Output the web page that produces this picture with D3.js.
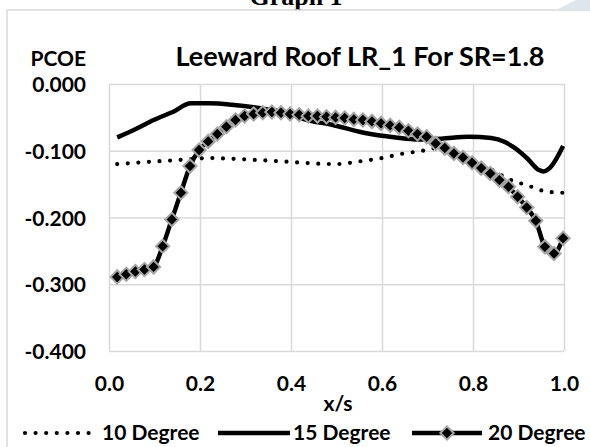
<!DOCTYPE html>
<html>
<head>
<meta charset="utf-8">
<script src="https://cdn.jsdelivr.net/npm/d3@7"></script>
<style>
  body { margin: 0; background: #fff; }
  text { font-family: Lato, "Open Sans", sans-serif; font-weight: bold; fill: #000; }
</style>
</head>
<body>
<div id="chart"></div>
<script>
// x/s positions and PCOE values
var x10 = [0.018, 0.08, 0.15, 0.22, 0.30, 0.38, 0.45, 0.50, 0.55, 0.60, 0.64, 0.69, 0.72, 0.78, 0.84, 0.88, 0.92, 0.96, 0.998];
var y10 = [-0.120, -0.117, -0.114, -0.111, -0.113, -0.116, -0.119, -0.120, -0.116, -0.111, -0.105, -0.100, -0.096, -0.108, -0.128, -0.143, -0.152, -0.161, -0.163];

var x15 = [0.018, 0.06, 0.098, 0.14, 0.18, 0.22, 0.27, 0.34, 0.40, 0.43, 0.49, 0.56, 0.63, 0.68, 0.73, 0.79, 0.84, 0.87, 0.89, 0.92, 0.945, 0.955, 0.97, 0.998];
var y15 = [-0.080, -0.067, -0.054, -0.042, -0.029, -0.029, -0.031, -0.037, -0.045, -0.053, -0.061, -0.073, -0.080, -0.083, -0.082, -0.079, -0.081, -0.087, -0.095, -0.112, -0.129, -0.131, -0.125, -0.093];

var x20 = [0.018, 0.038, 0.058, 0.078, 0.098, 0.118, 0.138, 0.158, 0.178, 0.198,
           0.218, 0.238, 0.258, 0.278, 0.298, 0.318, 0.338, 0.358, 0.378, 0.398,
           0.418, 0.438, 0.458, 0.478, 0.498, 0.518, 0.538, 0.558, 0.578, 0.598,
           0.618, 0.638, 0.658, 0.678, 0.698, 0.718, 0.738, 0.758, 0.778, 0.798,
           0.818, 0.838, 0.858, 0.878, 0.898, 0.918, 0.938, 0.958, 0.978, 0.998];
var y20 = [-0.289, -0.285, -0.281, -0.278, -0.274, -0.243, -0.203, -0.163, -0.123, -0.099,
           -0.086, -0.075, -0.064, -0.054, -0.048, -0.045, -0.043, -0.042, -0.043, -0.045,
           -0.046, -0.048, -0.048, -0.049, -0.050, -0.051, -0.053, -0.054, -0.056, -0.059,
           -0.062, -0.065, -0.070, -0.075, -0.079, -0.089, -0.096, -0.104, -0.110, -0.118,
           -0.126, -0.134, -0.144, -0.154, -0.169, -0.185, -0.205, -0.244, -0.254, -0.231];

var xTicks = [0, 0.2, 0.4, 0.6, 0.8, 1.0];
var xTickLabels = ["0.0", "0.2", "0.4", "0.6", "0.8", "1.0"];
var yTicks = [0, -0.1, -0.2, -0.3, -0.4];
var yTickLabels = ["0.000", "-0.100", "-0.200", "-0.300", "-0.400"];
var seriesNames = ["10 Degree", "15 Degree", "20 Degree"];

var W = 590, H = 447;
var plot = { left: 109, right: 564, top: 84, bottom: 351 };

var svg = d3.select("#chart").append("svg")
    .attr("width", W).attr("height", H);

// page bits around the chart
svg.append("polygon")
    .attr("points", "558,9 576,0 590,0 590,9")
    .attr("fill", "#dfe5ec");
svg.append("text")
    .attr("x", 296).attr("y", 5)
    .attr("text-anchor", "middle")
    .style("font-family", "'Liberation Serif', serif")
    .style("font-size", "26px")
    .text("Graph 1");

svg.append("path")
    .attr("d", "M7," + H + " V10 H" + W)
    .attr("fill", "none")
    .attr("stroke", "#d9d9d9")
    .attr("stroke-width", 1.5);

var x = d3.scaleLinear().domain([0, 1]).range([plot.left, plot.right]);
var y = d3.scaleLinear().domain([-0.4, 0]).range([plot.bottom, plot.top]);

// grid
var gx = svg.append("g")
    .attr("transform", "translate(0," + plot.bottom + ")")
    .call(d3.axisBottom(x).tickValues(xTicks)
        .tickSize(-(plot.bottom - plot.top))
        .tickFormat(function (d, i) { return xTickLabels[i]; }));
gx.select(".domain").remove();
gx.selectAll("line").attr("stroke", "#d9d9d9").attr("stroke-width", 1.5);
gx.selectAll("text").attr("y", 40).attr("dy", 0)
    .style("font-size", "21px");

var gy = svg.append("g")
    .attr("transform", "translate(" + plot.left + ",0)")
    .call(d3.axisLeft(y).tickValues(yTicks)
        .tickSize(-(plot.right - plot.left))
        .tickFormat(function (d, i) { return yTickLabels[i]; }));
gy.select(".domain").remove();
gy.selectAll("line").attr("stroke", "#d9d9d9").attr("stroke-width", 1.5);
gy.selectAll("text").attr("x", -23).attr("dy", "0.36em")
    .style("font-size", "21px");

// titles
svg.append("text")
    .attr("x", 360).attr("y", 66)
    .attr("text-anchor", "middle")
    .style("font-size", "27px")
    .text("Leeward Roof LR_1 For SR=1.8");
svg.append("text")
    .attr("x", 86).attr("y", 66)
    .attr("text-anchor", "end")
    .style("font-size", "21px")
    .text("PCOE");
svg.append("text")
    .attr("x", 338).attr("y", 411)
    .attr("text-anchor", "middle")
    .style("font-size", "21px")
    .text("x/s");

var line = d3.line()
    .x(function (d) { return x(d[0]); })
    .y(function (d) { return y(d[1]); })
    .curve(d3.curveMonotoneX);

var d10 = d3.zip(x10, y10), d15 = d3.zip(x15, y15), d20 = d3.zip(x20, y20);

svg.append("path").datum(d10)
    .attr("d", line)
    .attr("fill", "none").attr("stroke", "#000")
    .attr("stroke-width", 4.2)
    .attr("stroke-linecap", "round")
    .attr("stroke-dasharray", "0 10.6");

svg.append("path").datum(d15)
    .attr("d", line)
    .attr("fill", "none").attr("stroke", "#000")
    .attr("stroke-width", 4.5)
    .attr("stroke-linejoin", "round");

svg.append("path").datum(d20)
    .attr("d", line)
    .attr("fill", "none").attr("stroke", "#000")
    .attr("stroke-width", 4.5)
    .attr("stroke-linejoin", "round");

var diamond = d3.symbol().type(d3.symbolSquare).size(88);
svg.append("g").selectAll("path")
    .data(d20).join("path")
    .attr("d", diamond)
    .attr("transform", function (d) { return "translate(" + x(d[0]) + "," + y(d[1]) + ") rotate(45)"; })
    .attr("fill", "#000")
    .attr("stroke", "#a6a6a6")
    .attr("stroke-width", 2);

// legend
var ly = 433, lt = 440;
var legend = [
    { x1: 25, x2: 90, tx: 102, dash: "0 10.6", cap: "round", w: 4.2, marker: false },
    { x1: 218, x2: 290, tx: 293, dash: null, cap: "butt", w: 4.5, marker: false },
    { x1: 412, x2: 482, tx: 488, dash: null, cap: "butt", w: 4.5, marker: true }
];
legend.forEach(function (l, i) {
    svg.append("line")
        .attr("x1", l.x1).attr("x2", l.x2).attr("y1", ly).attr("y2", ly)
        .attr("stroke", "#000").attr("stroke-width", l.w)
        .attr("stroke-linecap", l.cap)
        .attr("stroke-dasharray", l.dash);
    if (l.marker) {
        svg.append("path").attr("d", diamond)
            .attr("transform", "translate(" + (l.x1 + l.x2) / 2 + "," + ly + ") rotate(45)")
            .attr("fill", "#000").attr("stroke", "#a6a6a6").attr("stroke-width", 2);
    }
    svg.append("text")
        .attr("x", l.tx).attr("y", lt)
        .style("font-size", "21px")
        .text(seriesNames[i]);
});
</script>
</body>
</html>
